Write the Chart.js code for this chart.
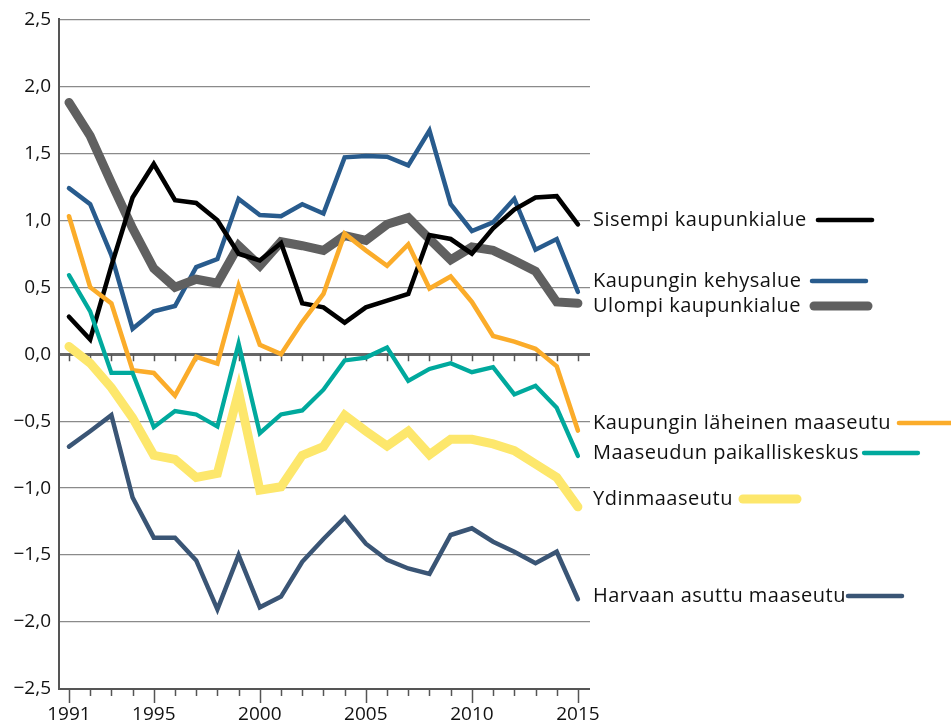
<!DOCTYPE html>
<html>
<head>
<meta charset="utf-8">
<script src="https://cdn.jsdelivr.net/npm/chart.js@4"></script>
<style>
  html, body { margin: 0; padding: 0; background: #fff; }
  #wrap { width: 951px; height: 726px; position: relative; }
</style>
</head>
<body>
<div id="wrap"><canvas id="kuva"></canvas></div>
<script>
// Vuodet
const vuodet = [1991, 1992, 1993, 1994, 1995, 1996, 1997, 1998, 1999, 2000, 2001, 2002, 2003,
                2004, 2005, 2006, 2007, 2008, 2009, 2010, 2011, 2012, 2013, 2014, 2015];
const nimetytVuodet = [1991, 1995, 2000, 2005, 2010, 2015];
const yTicks = [-2.5, -2, -1.5, -1, -0.5, 0, 0.5, 1, 1.5, 2, 2.5];

// Sarjat (luettu kuvasta)
const sisempi = [0.28, 0.11, 0.66, 1.17, 1.42, 1.15, 1.13, 1.0, 0.75, 0.70, 0.83, 0.38, 0.35,
                 0.235, 0.35, 0.40, 0.45, 0.89, 0.86, 0.75, 0.94, 1.08, 1.17, 1.18, 0.97];
const kehys = [1.24, 1.12, 0.74, 0.19, 0.32, 0.36, 0.65, 0.71, 1.16, 1.04, 1.03, 1.12, 1.05,
               1.47, 1.48, 1.475, 1.41, 1.67, 1.12, 0.92, 0.985, 1.16, 0.78, 0.86, 0.465];
const ulompi = [1.88, 1.63, 1.28, 0.94, 0.64, 0.50, 0.56, 0.53, 0.81, 0.66, 0.84, 0.81, 0.775,
                0.885, 0.85, 0.97, 1.02, 0.86, 0.705, 0.80, 0.775, 0.70, 0.62, 0.39, 0.38];
const laheinen = [1.03, 0.50, 0.38, -0.12, -0.14, -0.31, -0.02, -0.07, 0.51, 0.07, 0.0, 0.24, 0.45,
                  0.90, 0.775, 0.66, 0.82, 0.49, 0.58, 0.39, 0.136, 0.094, 0.04, -0.09, -0.57];
const paikalliskeskus = [0.59, 0.32, -0.14, -0.14, -0.545, -0.425, -0.45, -0.54, 0.08, -0.59, -0.45, -0.42, -0.265,
                         -0.047, -0.025, 0.05, -0.20, -0.11, -0.067, -0.134, -0.097, -0.30, -0.235, -0.40, -0.76];
const ydin = [0.057, -0.067, -0.25, -0.475, -0.755, -0.785, -0.92, -0.89, -0.28, -1.015, -0.99, -0.755, -0.69,
              -0.455, -0.575, -0.685, -0.575, -0.75, -0.636, -0.636, -0.67, -0.72, -0.82, -0.92, -1.14];
const harvaan = [-0.69, -0.575, -0.455, -1.07, -1.37, -1.37, -1.54, -1.905, -1.50, -1.89, -1.81, -1.55, -1.38,
                 -1.22, -1.415, -1.535, -1.60, -1.64, -1.35, -1.30, -1.40, -1.475, -1.56, -1.475, -1.83];

const fontti = "'Open Sans', 'Noto Sans', sans-serif";

function sarja(nimi, arvot, vari, paksuus, ly, lx) {
  return {
    label: nimi,
    data: vuodet.map((v, i) => ({ x: v, y: arvot[i] })),
    borderColor: vari,
    backgroundColor: vari,
    borderWidth: paksuus,
    pointRadius: 0,
    tension: 0,
    borderCapStyle: 'round',
    borderJoinStyle: 'miter',
    labelY: ly,
    labelLineX: lx
  };
}

// Selitteet oikealla: teksti + viiva
const selitePlugin = {
  id: 'selite',
  afterDraw(chart) {
    const c = chart.ctx;
    c.save();
    c.font = '20px ' + fontti;
    c.letterSpacing = '0.5px';
    c.textBaseline = 'middle';
    c.fillStyle = '#111';
    chart.data.datasets.forEach(ds => {
      const tx = 593;
      c.fillText(ds.label, tx, ds.labelY);
      const loppu = tx + c.measureText(ds.label).width;
      const alku = Math.max(loppu + 2, ds.labelLineX);
      c.beginPath();
      c.strokeStyle = ds.borderColor;
      c.lineWidth = ds.borderWidth;
      c.lineCap = 'round';
      c.moveTo(alku, ds.labelY);
      c.lineTo(alku + 54, ds.labelY);
      c.stroke();
    });
    c.restore();
  }
};

// Pienet väliviivat akseleilla
const tikkiPlugin = {
  id: 'tikit',
  beforeDatasetsDraw(chart) {
    const c = chart.ctx;
    const x = chart.scales.x, y = chart.scales.y;
    const y0 = y.getPixelForValue(0);
    const yb = chart.chartArea.bottom;
    c.save();
    c.strokeStyle = '#555';
    c.lineWidth = 1.5;
    vuodet.forEach(v => {
      const px = Math.round(x.getPixelForValue(v)) + 0.5;
      c.beginPath();
      c.moveTo(px, y0);
      c.lineTo(px, y0 + 7);
      c.moveTo(px, yb);
      c.lineTo(px, yb + (nimetytVuodet.includes(v) ? 14 : 7));
      c.stroke();
    });
    c.restore();
  }
};

new Chart(document.getElementById('kuva'), {
  type: 'line',
  data: {
    datasets: [
      sarja('Harvaan asuttu maaseutu', harvaan, '#3a5575', 4.5, 596, 848),
      sarja('Ydinmaaseutu', ydin, '#fde76c', 9, 499, 743),
      sarja('Maaseudun paikalliskeskus', paikalliskeskus, '#00a99d', 4.3, 453, 864),
      sarja('Kaupungin läheinen maaseutu', laheinen, '#fbac2a', 4.6, 423, 899),
      sarja('Sisempi kaupunkialue', sisempi, '#000000', 4.6, 220, 818),
      sarja('Ulompi kaupunkialue', ulompi, '#606060', 9, 306, 814),
      sarja('Kaupungin kehysalue', kehys, '#285b8d', 4.5, 281, 812)
    ]
  },
  options: {
    responsive: true,
    maintainAspectRatio: false,
    animation: false,
    layout: { padding: { top: 16, right: 361, left: 0, bottom: 0 } },
    plugins: { legend: { display: false }, tooltip: { enabled: false } },
    scales: {
      x: {
        type: 'linear',
        min: 1990.53,
        max: 2015.57,
        afterBuildTicks: s => { s.ticks = vuodet.map(v => ({ value: v })); },
        afterFit: s => { s.height = 37; },
        grid: { display: false },
        border: { display: false },
        ticks: {
          autoSkip: false,
          maxRotation: 0,
          padding: 6,
          color: '#111',
          font: { family: fontti, size: 19 },
          callback: v => nimetytVuodet.includes(v) ? String(v) : ''
        }
      },
      y: {
        min: -2.5,
        max: 2.5,
        afterBuildTicks: s => { s.ticks = yTicks.map(v => ({ value: v })); },
        afterFit: s => { s.width = 59; },
        grid: {
          drawTicks: false,
          color: ctx => ctx.tick && ctx.tick.value === 0 ? '#666' : (ctx.tick && ctx.tick.value === -2.5 ? '#555' : '#8a8a8a'),
          lineWidth: ctx => ctx.tick && ctx.tick.value === 0 ? 3 : (ctx.tick && ctx.tick.value === -2.5 ? 2 : 1.3)
        },
        border: { display: true, color: '#555', width: 2 },
        ticks: {
          padding: 8,
          color: '#111',
          font: { family: fontti, size: 19 },
          callback: v => (v < 0 ? '\u2212' : '') + Math.abs(v).toFixed(1).replace('.', ',')
        }
      }
    }
  },
  plugins: [tikkiPlugin, selitePlugin]
});
</script>
</body>
</html>
